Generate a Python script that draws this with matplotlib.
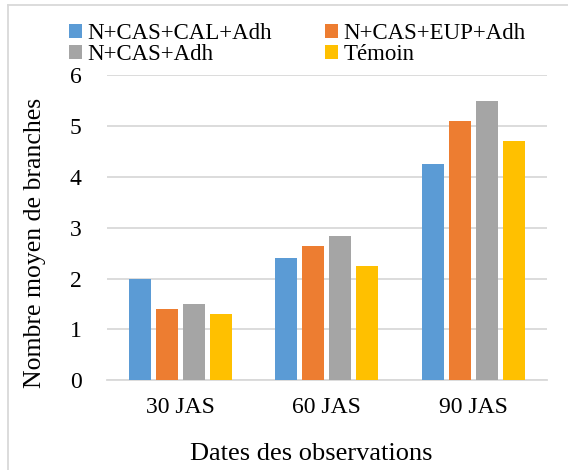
import numpy as np
import matplotlib
matplotlib.use('Agg')
import matplotlib.pyplot as plt
from matplotlib.lines import Line2D

plt.rcParams['font.family'] = ['Liberation Serif', 'DejaVu Serif']

# data
dates = ['30 JAS', '60 JAS', '90 JAS']
series = ['N+CAS+CAL+Adh', 'N+CAS+EUP+Adh', 'N+CAS+Adh', 'Témoin']
cal = [2.0, 2.4, 4.25]
eup = [1.4, 2.64, 5.1]
cas = [1.5, 2.84, 5.5]
temoin = [1.3, 2.24, 4.71]
colors = ['#5B9BD5', '#ED7D31', '#A5A5A5', '#FFC000']

fig = plt.figure(figsize=(5.68, 4.70), dpi=100)
ax = fig.add_axes([0.188, 0.191, 0.775, 0.649])

x = np.arange(len(dates))
step = 0.184
w = 0.15
bars = []
for i, vals in enumerate([cal, eup, cas, temoin]):
    b = ax.bar(x + (i - 1.5) * step, vals, w, color=colors[i], label=series[i], zorder=3)
    bars.append(b)

ax.set_xlim(-0.5, 2.5)
ax.set_ylim(0, 6)
ax.set_yticks(range(0, 7))
ax.set_xticks(x)
ax.set_xticklabels(dates)
ax.grid(axis='y', color='#d9d9d9', linewidth=1.3, zorder=0)
for s in ['top', 'right', 'left']:
    ax.spines[s].set_visible(False)
ax.spines['bottom'].set_color('#d9d9d9')
ax.spines['bottom'].set_linewidth(1.3)
ax.tick_params(length=0, labelsize=17)
ax.tick_params(axis='y', pad=18)
ax.tick_params(axis='x', pad=12)
ax.set_xlabel('Dates des observations', fontsize=19)
ax.set_ylabel('Nombre moyen de branches', fontsize=18.5)
ax.xaxis.set_label_coords(0.464, -0.205)
ax.yaxis.set_label_coords(-0.138, 0.449)

# row-major order like the original legend
order = [0, 2, 1, 3]
fig.legend([bars[i] for i in order], [series[i] for i in order],
           loc='upper left', bbox_to_anchor=(0.094, 0.985), ncol=2, frameon=False,
           fontsize=16.5, handlelength=0.55, handleheight=0.55, handletextpad=0.25,
           labelspacing=0.0, columnspacing=2.3, borderpad=0.2)

# light frame around the chart
fig.add_artist(Line2D([8 / 568, 1], [1 - 5 / 470, 1 - 5 / 470], color='#d9d9d9', lw=1.3))
fig.add_artist(Line2D([8 / 568, 8 / 568], [0, 1 - 5 / 470], color='#d9d9d9', lw=1.3))

fig.savefig('out.png', dpi=100)
